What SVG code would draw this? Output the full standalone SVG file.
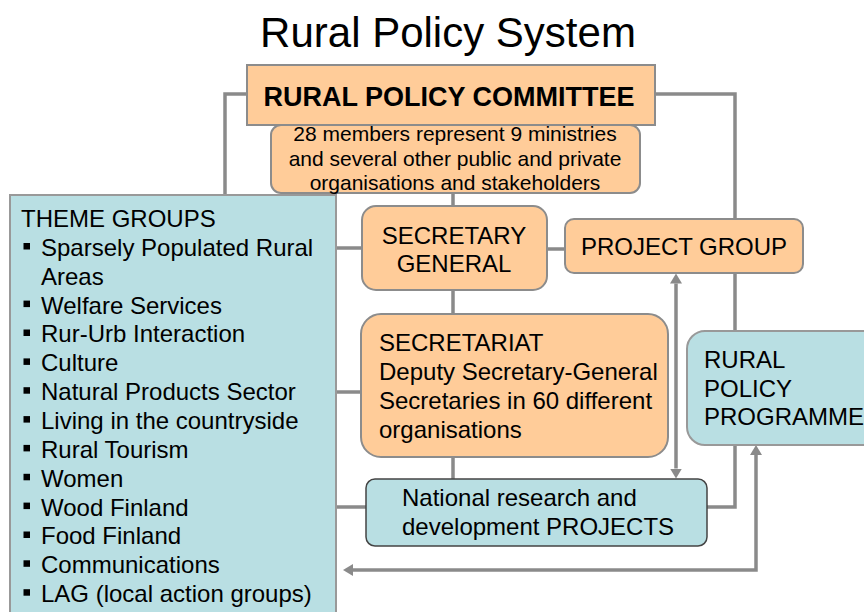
<svg xmlns="http://www.w3.org/2000/svg" width="864" height="612" viewBox="0 0 864 612">
<defs>
<marker id="arr" markerUnits="userSpaceOnUse" markerWidth="10" markerHeight="12" refX="0" refY="6" orient="auto-start-reverse" viewBox="0 0 10 12">
<path d="M0,0 L10,6 L0,12 z" fill="#8a8a8a"/>
</marker>
<style>
text{font-family:"Liberation Sans",Arial,sans-serif;fill:#000;}
.peach{fill:#ffcc99;stroke:#8c8c8c;stroke-width:2;}
.teal{fill:#b9dfe3;stroke:#999;stroke-width:2;}
.conn{fill:none;stroke:#8a8a8a;stroke-width:3.5;}
.t24{font-size:24px;}
.mid{text-anchor:middle;}
</style>
</defs>
<rect width="864" height="612" fill="#fff"/>
<text x="448" y="47" font-size="42" class="mid">Rural Policy System</text>

<g id="connectors">
<path class="conn" d="M247,94 H225 V196"/>
<path class="conn" d="M655,94 H735 V219"/>
<path class="conn" d="M735,273 V331"/>
<path class="conn" d="M735,445 V507 H707"/>
<path class="conn" d="M453,192 V206"/>
<path class="conn" d="M453,290 V314"/>
<path class="conn" d="M453,457 V479"/>
<path class="conn" d="M336,248 H362"/>
<path class="conn" d="M547,249 H565"/>
<path class="conn" d="M336,392 H361"/>
<path class="conn" d="M336,507 H366"/>
<path class="conn" d="M676,283.5 V468.5" marker-start="url(#arr)" marker-end="url(#arr)"/>
<path class="conn" d="M353,570 H756 V455" marker-start="url(#arr)" marker-end="url(#arr)"/>
</g>

<g id="members">
<rect class="peach" x="271" y="125" width="369" height="68" rx="10"/>
<text x="455" y="141" font-size="21" class="mid">28 members represent 9 ministries</text>
<text x="455" y="166" font-size="21" class="mid">and several other public and private</text>
<text x="455" y="190" font-size="21" class="mid">organisations and stakeholders</text>
</g>

<g id="committee">
<rect class="peach" x="247" y="65" width="408" height="60"/>
<text x="449" y="106" font-size="27" font-weight="bold" class="mid">RURAL POLICY COMMITTEE</text>
</g>

<g id="theme-groups">
<rect class="teal" x="10" y="195" width="326" height="440"/>
<text x="21" y="227" class="t24">THEME GROUPS</text>
<g fill="#000">
<rect x="23.5" y="243" width="6.5" height="6.5"/>
<rect x="23.5" y="300.6" width="6.5" height="6.5"/>
<rect x="23.5" y="329.5" width="6.5" height="6.5"/>
<rect x="23.5" y="358.4" width="6.5" height="6.5"/>
<rect x="23.5" y="387.2" width="6.5" height="6.5"/>
<rect x="23.5" y="416.1" width="6.5" height="6.5"/>
<rect x="23.5" y="444.9" width="6.5" height="6.5"/>
<rect x="23.5" y="473.8" width="6.5" height="6.5"/>
<rect x="23.5" y="502.6" width="6.5" height="6.5"/>
<rect x="23.5" y="531.5" width="6.5" height="6.5"/>
<rect x="23.5" y="560.3" width="6.5" height="6.5"/>
<rect x="23.5" y="589.2" width="6.5" height="6.5"/>
</g>
<text x="41" y="255.9" class="t24">Sparsely Populated Rural</text>
<text x="41" y="284.7" class="t24">Areas</text>
<text x="41" y="313.5" class="t24">Welfare Services</text>
<text x="41" y="342.4" class="t24">Rur-Urb Interaction</text>
<text x="41" y="371.3" class="t24">Culture</text>
<text x="41" y="400.1" class="t24">Natural Products Sector</text>
<text x="41" y="429" class="t24">Living in the countryside</text>
<text x="41" y="457.8" class="t24">Rural Tourism</text>
<text x="41" y="486.7" class="t24">Women</text>
<text x="41" y="515.5" class="t24">Wood Finland</text>
<text x="41" y="544.4" class="t24">Food Finland</text>
<text x="41" y="573.2" class="t24">Communications</text>
<text x="41" y="602" class="t24">LAG (local action groups)</text>
</g>

<g id="secretary-general">
<rect class="peach" x="362" y="206" width="185" height="84" rx="14"/>
<text x="454" y="244" class="t24 mid">SECRETARY</text>
<text x="454" y="272" class="t24 mid">GENERAL</text>
</g>

<g id="project-group">
<rect class="peach" x="565" y="219" width="238" height="54" rx="9"/>
<text x="684" y="255" class="t24 mid">PROJECT GROUP</text>
</g>

<g id="secretariat">
<rect class="peach" x="361" y="314" width="307" height="143" rx="20"/>
<text x="379" y="351" class="t24">SECRETARIAT</text>
<text x="379" y="380" class="t24">Deputy Secretary-General</text>
<text x="379" y="409" class="t24">Secretaries in 60 different</text>
<text x="379" y="438" class="t24">organisations</text>
</g>

<g id="rural-policy-programme">
<rect class="teal" x="687" y="331" width="200" height="114" rx="18"/>
<text x="704" y="368" class="t24">RURAL</text>
<text x="704" y="397" class="t24">POLICY</text>
<text x="704" y="425" class="t24">PROGRAMME</text>
</g>

<g id="national-projects">
<rect x="366" y="479" width="341" height="67" rx="9" fill="#b9dfe3" stroke="#444" stroke-width="1.5"/>
<text x="402" y="506" class="t24">National research and</text>
<text x="402" y="535" class="t24">development PROJECTS</text>
</g>
</svg>
